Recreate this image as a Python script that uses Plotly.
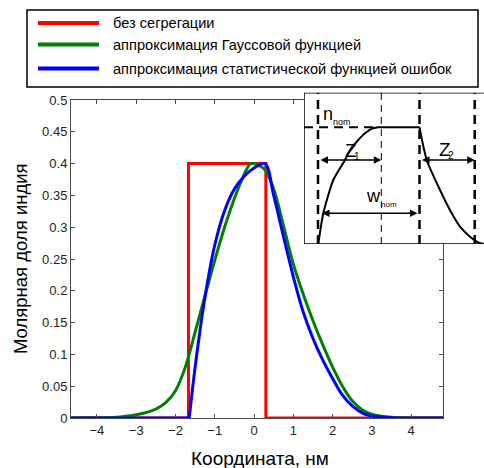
import plotly.graph_objects as go

# ---------------- data ----------------
x_ticks = [-4, -3, -2, -1, 0, 1, 2, 3, 4]
y_ticks = [0, 0.05, 0.1, 0.15, 0.2, 0.25, 0.3, 0.35, 0.4, 0.45, 0.5]

red_x = [-4.66, -1.67, -1.67, 0.30, 0.30, 4.81]
red_y = [0, 0, 0.40, 0.40, 0, 0]

green_x = [-4.66, -4.0, -3.5, -3.0, -2.5, -2.25, -2.0, -1.75, -1.5, -1.25, -1.0, -0.75,
           -0.5, -0.25, -0.08, 0.25, 0.5, 0.75, 1.0, 1.25, 1.5, 1.75, 2.0, 2.25,
           2.5, 2.75, 3.0, 3.5, 4.0, 4.81]
green_y = [0, 0.0003, 0.0012, 0.005, 0.014, 0.024, 0.043, 0.080, 0.135, 0.192, 0.248, 0.300,
           0.345, 0.383, 0.400, 0.392, 0.360, 0.302, 0.242, 0.195, 0.153, 0.115, 0.080, 0.050,
           0.027, 0.013, 0.006, 0.001, 0, 0]

blue_flat_x = [-4.66, -1.65]
blue_flat_y = [0, 0]
blue_x = [-1.65, -1.5, -1.25, -1.0, -0.75, -0.5, -0.25, 0.0, 0.28, 0.5,
          0.75, 1.0, 1.25, 1.5, 1.75, 2.0, 2.25, 2.5, 2.75, 3.0, 3.5, 4.0, 4.81]
blue_y = [0, 0.080, 0.190, 0.272, 0.326, 0.360, 0.380, 0.393, 0.400, 0.350,
          0.285, 0.222, 0.167, 0.125, 0.091, 0.062, 0.036, 0.019, 0.008, 0.003, 0.0005, 0, 0]

legend_names = ["без сегрегации",
                "аппроксимация Гауссовой функцией",
                "аппроксимация статистической функцией ошибок"]
colors = ["#ff0000", "#008000", "#0000ff"]

# inset schematic profile (arbitrary units)
inset_rise_x = [14.3, 19.3, 29.3, 41.0, 46.0, 54.3, 61.0, 68.0, 74.0]
inset_rise_y = [0, 30.7, 64.0, 84.0, 94.0, 104.0, 110.7, 115.3, 116.7]
inset_flat_x = [74.0, 115.5]
inset_flat_y = [116.7, 116.7]
inset_fall_x = [115.5, 122.7, 136.0, 147.7, 156.0, 166.0, 176.0, 180.0]
inset_fall_y = [116.7, 84.0, 54.0, 30.7, 17.3, 7.3, 0.7, 0]
inset_marks_x = [14.0, 77.3, 115.5, 170.7]   # dashed boundaries
inset_level = 116.7

FONT = "Liberation Sans, Arial, sans-serif"

# ---------------- layout helpers (pixel -> paper) ----------------
W, H = 484, 468
ML, MT, MB = 71, 90, 50
PW = W - ML
PH = H - MT - MB


def pxx(px):
    return (px - ML) / PW


def pxy(py):
    return (H - MB - py) / PH


fig = go.Figure()
fig.add_trace(go.Scatter(x=red_x, y=red_y, mode="lines", name=legend_names[0],
                         line=dict(color=colors[0], width=3), showlegend=False))
fig.add_trace(go.Scatter(x=green_x, y=green_y, mode="lines", name=legend_names[1],
                         line=dict(color=colors[1], width=3, shape="spline", smoothing=0.9),
                         showlegend=False))
fig.add_trace(go.Scatter(x=blue_flat_x, y=blue_flat_y, mode="lines", name=legend_names[2],
                         line=dict(color=colors[2], width=3), showlegend=False))
fig.add_trace(go.Scatter(x=blue_x, y=blue_y, mode="lines", name=legend_names[2],
                         line=dict(color=colors[2], width=3, shape="spline", smoothing=0.9),
                         showlegend=False))

for xs, ys in [(inset_rise_x, inset_rise_y), (inset_flat_x, inset_flat_y),
               (inset_fall_x, inset_fall_y)]:
    fig.add_trace(go.Scatter(x=xs, y=ys, mode="lines",
                             line=dict(color="black", width=2, shape="spline", smoothing=0.6),
                             xaxis="x2", yaxis="y2", showlegend=False, hoverinfo="skip"))

axis_common = dict(showline=True, linecolor="#4a4a4a", linewidth=1, ticks="inside",
                   ticklen=4, tickcolor="#4a4a4a", mirror="ticks", showgrid=False,
                   zeroline=False, tickfont=dict(family=FONT, size=13, color="#222"))

fig.update_layout(
    width=W, height=H,
    margin=dict(l=ML, r=0, t=MT, b=MB),
    paper_bgcolor="white", plot_bgcolor="white",
    font=dict(family=FONT, color="black"),
    xaxis=dict(domain=[0, pxx(443)], range=[-4.66, 4.81], tickvals=x_ticks, **axis_common),
    yaxis=dict(domain=[0, pxy(100)], range=[0, 0.5], tickvals=y_ticks, **axis_common),
    xaxis2=dict(domain=[pxx(304), 1.0], range=[0, 180], anchor="y2", visible=False,
                fixedrange=True),
    yaxis2=dict(domain=[pxy(244), pxy(92.7)], range=[0, 151.3], anchor="x2", visible=False,
                fixedrange=True),
)

shapes = []
ann = []

# axis titles
ann.append(dict(x=pxx(260), y=pxy(458), xref="paper", yref="paper", text="Координата, нм",
                showarrow=False, font=dict(family=FONT, size=19, color="black"),
                xanchor="center", yanchor="middle"))
ann.append(dict(x=pxx(20), y=pxy(259), xref="paper", yref="paper", text="Молярная доля индия",
                showarrow=False, textangle=-90, font=dict(family=FONT, size=18.5, color="black"),
                xanchor="center", yanchor="middle"))

# legend box
shapes.append(dict(type="rect", xref="paper", yref="paper", x0=pxx(27), x1=pxx(478),
                   y0=pxy(87), y1=pxy(10), line=dict(color="black", width=1.5),
                   fillcolor="white", layer="above"))
for i, (name, c, ry) in enumerate(zip(legend_names, colors, [23, 44.5, 68.5])):
    shapes.append(dict(type="line", xref="paper", yref="paper", x0=pxx(38), x1=pxx(99),
                       y0=pxy(ry), y1=pxy(ry), line=dict(color=c, width=4), layer="above"))
    ann.append(dict(x=pxx(111), y=pxy(ry), xref="paper", yref="paper", text=name,
                    showarrow=False, xanchor="left", yanchor="middle",
                    font=dict(family=FONT, size=14.6, color="black")))

# inset frame (left, top, bottom)
frame = dict(color="black", width=1.5)
shapes.append(dict(type="line", xref="x2", yref="y2", x0=0, x1=0, y0=0, y1=151.3, line=frame))
shapes.append(dict(type="line", xref="x2", yref="y2", x0=0, x1=182, y0=151.3, y1=151.3, line=frame))
shapes.append(dict(type="line", xref="x2", yref="y2", x0=0, x1=182, y0=0, y1=0, line=frame))

# dashed boundaries
for k, xv in enumerate(inset_marks_x):
    shapes.append(dict(type="line", xref="x2", yref="y2", x0=xv, x1=xv, y0=0, y1=151.3,
                       line=dict(color="black", width=1 if k == 1 else 2.5,
                                 dash="9px,6px" if k != 1 else "7px,5px")))
shapes.append(dict(type="line", xref="x2", yref="y2", x0=0, x1=72, y0=inset_level,
                   y1=inset_level, line=dict(color="black", width=2, dash="9px,6px")))

# double arrows
for (xa, xb, yv) in [(inset_marks_x[0] + 1, inset_marks_x[1], 84.0),
                     (inset_marks_x[2] + 1, inset_marks_x[3], 84.0),
                     (16.5, 113.5, 30.7)]:
    ann.append(dict(x=xb, y=yv, ax=xa, ay=yv, xref="x2", yref="y2", axref="x2", ayref="y2",
                    text="", showarrow=True, arrowhead=2, startarrowhead=2,
                    arrowside="end+start", arrowsize=1, startarrowsize=1, arrowwidth=1.5,
                    arrowcolor="black"))

# inset labels
for (t, xv, yv, s) in [("n", 24, 130, 18), ("nom", 38, 122, 9),
                       ("Z", 47.3, 94, 19), ("1", 53.2, 87.5, 10),
                       ("Z", 140.7, 94.5, 19), ("2", 146.5, 88.7, 10),
                       ("w", 69.7, 48, 18), ("nom", 84.7, 39.3, 8)]:
    ann.append(dict(x=xv, y=yv, xref="x2", yref="y2", text=t, showarrow=False,
                    xanchor="center", yanchor="middle",
                    font=dict(family=FONT, size=s, color="black")))

fig.update_layout(shapes=shapes, annotations=ann)
fig.write_html("out.html", config={"displayModeBar": False},
               post_script="document.body.style.margin='0';document.body.style.overflow='hidden';")
